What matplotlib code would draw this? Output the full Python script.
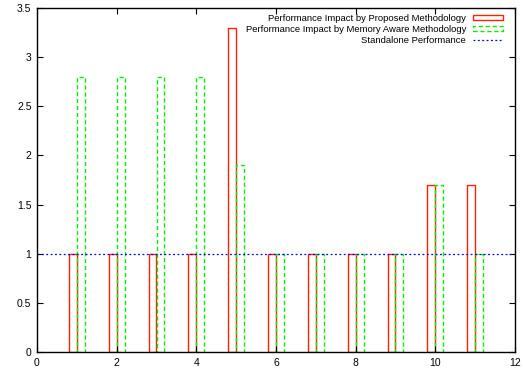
import matplotlib
matplotlib.use("Agg")
import matplotlib.pyplot as plt
import numpy as np

plt.rcParams['font.family'] = ['Liberation Sans', 'DejaVu Sans']

workloads = [1, 2, 3, 4, 5, 6, 7, 8, 9, 10, 11]
proposed = [1, 1, 1, 1, 3.3, 1, 1, 1, 1, 1.7, 1.7]
memory_aware = [2.8, 2.8, 2.8, 2.8, 1.9, 1, 1, 1, 1, 1.7, 1]
standalone = 1.0

x_ticks = [0, 2, 4, 6, 8, 10, 12]
y_ticks = [0, 0.5, 1, 1.5, 2, 2.5, 3, 3.5]
y_tick_labels = ['0', '0.5', '1', '1.5', '2', '2.5', '3', '3.5']

fig = plt.figure(figsize=(5.23, 3.70), dpi=100)
ax = fig.add_axes([37 / 523, 18 / 370, 478 / 523, 344 / 370])

x = np.array(workloads, dtype=float)
bw = 0.2
b1 = ax.bar(x - bw / 2, proposed, width=bw, facecolor='none', edgecolor='#ff2200',
            linewidth=1.0, label='Performance Impact by Proposed Methodology')
b2 = ax.bar(x + bw / 2, memory_aware, width=bw, facecolor='none', edgecolor='#00ee00',
            linewidth=1.0, linestyle=(0, (3, 2)),
            label='Performance Impact by Memory Aware Methodology')
l1, = ax.plot([0, 12], [standalone, standalone], color='#0000ff', linewidth=0.9,
              linestyle=(0, (1.5, 2)), label='Standalone Performance')

ax.set_xlim(0, 12)
ax.set_ylim(0, 3.5)
ax.set_xticks(x_ticks)
ax.set_xticklabels([str(t) for t in x_ticks])
ax.set_yticks(y_ticks)
ax.set_yticklabels(y_tick_labels)
ax.tick_params(direction='in', length=4, width=0.8, top=True, right=True,
               labelsize=7.5, pad=4)
for s in ax.spines.values():
    s.set_linewidth(1.0)
    s.set_color('black')

leg = ax.legend(handles=[b1, b2, l1], loc='upper right',
                bbox_to_anchor=(1 - 6 / 478, 1.0), frameon=False,
                markerfirst=False, fontsize=6.8, handlelength=3.2,
                handleheight=0.5, labelspacing=0.22, handletextpad=0.75,
                borderaxespad=0.3, borderpad=0.3)

fig.savefig('out.png', dpi=100)
